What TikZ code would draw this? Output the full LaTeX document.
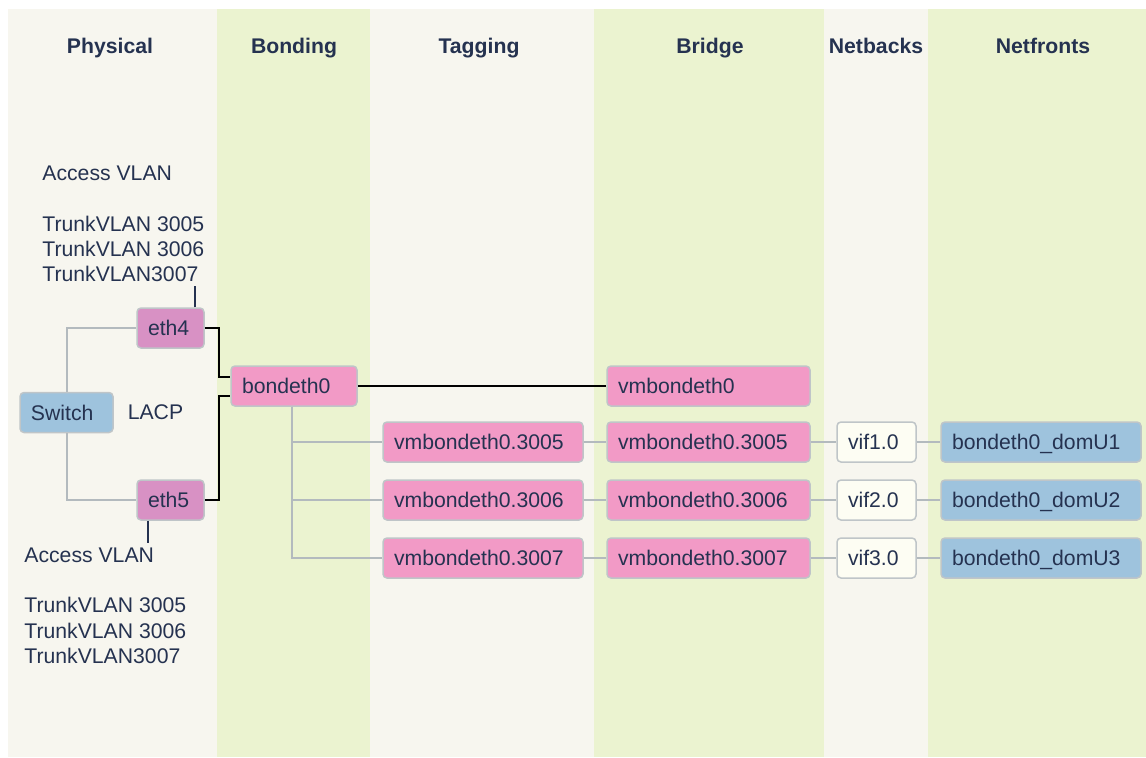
\documentclass[tikz,border=0pt]{standalone}
\usepackage{fontspec}
\setmainfont{Liberation Sans}
\usetikzlibrary{positioning}
\definecolor{paleback}{HTML}{F7F6EF}
\definecolor{paleleaf}{HTML}{EBF3D0}
\definecolor{inkblue}{HTML}{253250}
\definecolor{vmpink}{HTML}{F29AC6}
\definecolor{ethpink}{HTML}{D891C4}
\definecolor{switchblue}{HTML}{9EC3DD}
\definecolor{vifwhite}{HTML}{FDFDF3}
\definecolor{wiregray}{HTML}{B3BABE}
\definecolor{rimgray}{HTML}{BFC5C8}
\tikzset{
  iface/.style = {
    draw=rimgray, line width=0.75pt, rounded corners=2pt,
    minimum height=20pt, text height=7.6pt, text depth=0pt,
    inner xsep=5.5pt, text width=#1, align=left, text=inkblue
  },
  lanehead/.style = {anchor=base, font=\fontsize{10.6}{12.75}\selectfont\bfseries},
  vlantext/.style = {anchor=base west, inner sep=2pt},
  wire/.style = {draw=wiregray, line width=1pt},
  bondwire/.style = {draw=black, line width=1.2pt},
  leader/.style = {draw=inkblue, line width=0.7pt}
}

\begin{document}
\begin{tikzpicture}[x=0.5pt,y=-0.5pt,font=\fontsize{10.6}{12.75}\selectfont,text=inkblue]
  \useasboundingbox (0,0) rectangle (1146,757);
  \foreach \l/\r/\c in {8/217/paleback,217/370/paleleaf,370/594/paleback,
                        594/824/paleleaf,824/928/paleback,928/1146/paleleaf}
    \fill[\c] (\l,9) rectangle (\r,757);
  \foreach \n/\x/\t in {physical/110/Physical,bonding/294/Bonding,tagging/479/Tagging,
                        bridge/710/Bridge,netbacks/876/Netbacks,netfronts/1043/Netfronts}
    \node[lanehead] (\n) at (\x,53) {\t};

  \node[vlantext] (accA) at (38,180) {Access VLAN};
  \node[vlantext] (trunkA1) at (38,231) {TrunkVLAN 3005};
  \node[vlantext] (trunkA2) at (38,256) {TrunkVLAN 3006};
  \node[vlantext] (trunkA3) at (38,281) {TrunkVLAN3007};
  \node[vlantext] (accB) at (20,562) {Access VLAN};
  \node[vlantext] (trunkB1) at (20,612) {TrunkVLAN 3005};
  \node[vlantext] (trunkB2) at (20,638) {TrunkVLAN 3006};
  \node[vlantext] (trunkB3) at (20,663) {TrunkVLAN3007};

  \node[iface=35.5pt,fill=switchblue] (switch) at (66.5,412.5) {Switch};
  \node[right=3.5pt of switch] (lacp) {LACP};
  \node[iface=22.5pt,fill=ethpink] (eth4) at (170.5,328) {eth4};
  \node[iface=22.5pt,fill=ethpink] (eth5) at (170.5,500) {eth5};
  \node[iface=52pt,fill=vmpink] (bond) at (294,386) {bondeth0};
  \node[iface=90.5pt,fill=vmpink] (vmbond) at (708.5,386) {vmbondeth0};

  \draw[wire] (switch.north) |- (eth4.west);
  \draw[wire] (switch.south) |- (eth5.west);
  \draw[leader] ([xshift=12.25pt]eth4.north) -- ([xshift=12.25pt]eth4.north |- trunkA3.south);
  \draw[leader] ([xshift=-11.25pt]eth5.south) -- ([xshift=-11.25pt]eth5.south |- accB.north);
  \draw[bondwire] (eth4.east) -- ++(14,0) |- ([yshift=4.5pt]bond.west);
  \draw[bondwire] (eth5.east) -- ++(14,0) |- ([yshift=-5pt]bond.west);
  \draw[bondwire] (bond) -- (vmbond);

  \foreach \v/\y [count=\i] in {3005/442,3006/500,3007/558} {
    \node[iface=89pt,fill=vmpink] (tag\i) at (483,\y) {vmbondeth0.\v};
    \node[iface=90.5pt,fill=vmpink] (br\i) at (708.5,\y) {vmbondeth0.\v};
    \node[iface=28.5pt,fill=vifwhite] (vif\i) at (876.5,\y) {vif\i.0};
    \node[iface=89pt,fill=switchblue] (front\i) at (1041,\y) {bondeth0\_domU\i};
    \draw[wire] ([xshift=-1pt]bond.south) |- (tag\i.west);
    \draw[wire] (tag\i) -- (br\i) -- (vif\i) -- (front\i);
  }
\end{tikzpicture}
\end{document}
